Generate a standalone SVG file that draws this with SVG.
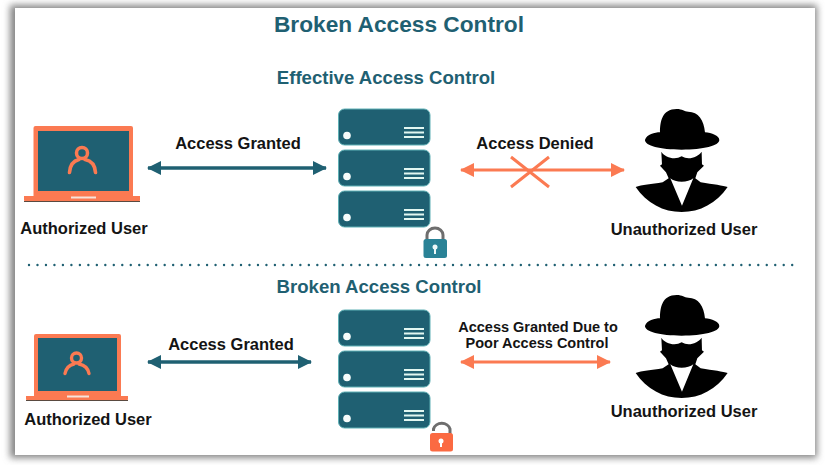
<svg xmlns="http://www.w3.org/2000/svg" width="825" height="465" viewBox="0 0 825 465">
  <style>
    text { font-family: "Liberation Sans", Arial, sans-serif; font-weight: bold; text-anchor: middle; }
    .label { fill: #141414; font-size: 16.5px; }
    .small { fill: #141414; font-size: 14.5px; }
    .heading { fill: #1f6072; font-size: 18.6px; }
    .title { fill: #1f6072; font-size: 22.7px; }
    .teal { stroke: #1f6072; fill: none; stroke-width: 3.5; }
    .coral { stroke: #fb7a52; fill: none; stroke-width: 3; }
    .rack { fill: #1f6072; stroke: #5fb0b5; stroke-width: 1; }
    .vent { stroke: #e2f7f1; stroke-width: 2; }
  </style>
  <defs>
    <filter id="soft" x="-5%" y="-5%" width="110%" height="110%"><feGaussianBlur stdDeviation="3.500"/></filter>
    <marker id="tealHead" viewBox="0 0 14 14" refX="13" refY="7" markerUnits="userSpaceOnUse" markerWidth="14" markerHeight="14" orient="auto-start-reverse">
      <path d="M0 0L14 7L0 14Z" fill="#1f6072"/>
    </marker>
    <marker id="coralHead" viewBox="0 0 14 14" refX="13" refY="7" markerUnits="userSpaceOnUse" markerWidth="14" markerHeight="14" orient="auto-start-reverse">
      <path d="M0 0L14 7L0 14Z" fill="#fb7a52"/>
    </marker>
    <g id="unit">
      <rect class="rack" x="338.5" y="0.5" width="91.5" height="36" rx="6"/>
      <circle cx="347" cy="27" r="3.800" fill="#f7fcfb"/>
      <path class="vent" d="M404 19.500H424M404 24H424M404 28.500H424"/>
    </g>
    <g id="stack">
      <use href="#unit" y="0"/>
      <use href="#unit" y="41"/>
      <use href="#unit" y="82"/>
    </g>
    <g id="spy">
      <!-- hat, mask and coat, drawn at three times size -->
      <path fill="#000" d="M555 135C560 118 585 112 600 112C600 80 606 42 650 42C668 42 672 50 685 50C715 50 732 75 735 112C755 114 778 122 778 135C778 152 730 164 665 164C600 164 555 152 555 135Z"/>
      <path fill="#000" d="M604 170C615 188 645 196 665 184C685 196 712 188 725 170L726 208L732 212L712 232L706 250L722 262C760 268 790 272 803 276C770 325 720 351 665 351C610 351 560 325 527 276C545 270 575 268 608 262L626 250L618 232L600 212L606 208Z"/>
      <path fill="#fff" d="M631 250C645 264 685 264 700 250L666 332Z"/>
    </g>
  </defs>

  <!-- page sheet with its drop shadow -->
  <rect width="825" height="465" fill="#fff"/>
  <rect x="10" y="5" width="807" height="453" fill="#858585" filter="url(#soft)"/>
  <rect x="15" y="8" width="800" height="447" fill="#fff"/>

  <text class="title" x="399" y="32">Broken Access Control</text>
  <text class="heading" x="386" y="84">Effective Access Control</text>
  <text class="heading" x="379" y="293">Broken Access Control</text>

  <path d="M29 265H792.500" stroke="#1f6072" stroke-width="2.400" stroke-dasharray="0 8.480" stroke-linecap="round" fill="none"/>

  <g id="connectors">
    <path class="teal" marker-start="url(#tealHead)" marker-end="url(#tealHead)" d="M148 168H326"/>
    <path class="coral" marker-start="url(#coralHead)" marker-end="url(#coralHead)" d="M461 170H624"/>
    <path class="coral" stroke-width="2.500" d="M511 157L549 187M549 157L511 187"/>
    <path class="teal" marker-start="url(#tealHead)" marker-end="url(#tealHead)" d="M148 362H311"/>
    <path class="coral" marker-start="url(#coralHead)" marker-end="url(#coralHead)" d="M461 362H610"/>
  </g>
  <text class="label" x="238" y="148.500">Access Granted</text>
  <text class="label" x="535" y="148.500">Access Denied</text>
  <text class="label" x="231" y="350">Access Granted</text>
  <text class="small" x="538" y="332">Access Granted Due to</text>
  <text class="small" x="537" y="348">Poor Access Control</text>

  <g id="authorized-user-top">
    <rect x="33.500" y="126" width="99.500" height="72" rx="2" fill="#fb7a52"/>
    <rect x="38" y="131" width="91" height="60" fill="#1f6072"/>
    <path d="M24 196H140V200Q140 202 138 202H26Q24 202 24 200Z" fill="#fb7a52"/>
    <path d="M24 201.500H140" stroke="#5a4a40" stroke-width="1"/>
    <rect x="71" y="196.500" width="25" height="2" fill="#f6e4dc"/>
    <circle cx="82" cy="153" r="5.500" fill="none" stroke="#fb7a52" stroke-width="3.500"/>
    <path d="M69.500 172.500C70 164 75 160.500 79 159.500M95.500 172.500C95 164 90 160.500 85 159.500" fill="none" stroke="#fb7a52" stroke-width="3.600" stroke-linecap="round"/>
    <text class="label" x="84" y="234">Authorized User</text>
  </g>

  <g id="server-top">
    <use href="#stack" y="108.500"/>
  </g>
  <g id="lock-closed">
    <path d="M427 240V235A8 7 0 0 1 443 235V240" fill="none" stroke="#6e6e6e" stroke-width="3"/>
    <rect x="423.500" y="239" width="23.500" height="19" rx="2.500" fill="#2a8296"/>
    <circle cx="435" cy="247" r="2.500" fill="#eef8f8"/>
    <path d="M435 247V254" stroke="#eef8f8" stroke-width="2"/>
  </g>

  <g id="unauthorized-user-top">
    <use href="#spy" transform="translate(460 95) scale(.3333)"/>
    <text class="label" x="684" y="235">Unauthorized User</text>
  </g>

  <g id="authorized-user-bottom">
    <rect x="34" y="334" width="87" height="64" rx="2" fill="#fb7a52"/>
    <rect x="38" y="338" width="79" height="53" fill="#1f6072"/>
    <path d="M26 396H128V399Q128 401 126 401H28Q26 401 26 399Z" fill="#fb7a52"/>
    <path d="M26 400.500H128" stroke="#5a4a40" stroke-width="1"/>
    <rect x="67" y="395.500" width="22" height="2" fill="#f6e4dc"/>
    <circle cx="76.500" cy="358" r="5" fill="none" stroke="#fb7a52" stroke-width="3.400"/>
    <path d="M65 373.500C66 368 70 365 74 364M89 373.500C88 368 84 365 79 364" fill="none" stroke="#fb7a52" stroke-width="3.400" stroke-linecap="round"/>
    <text class="label" x="88" y="425">Authorized User</text>
  </g>

  <g id="server-bottom">
    <use href="#stack" y="309.500"/>
  </g>
  <g id="lock-open">
    <path d="M433.500 431V429A8.500 7.500 0 0 1 450 429V434" fill="none" stroke="#6e6e6e" stroke-width="3"/>
    <rect x="430" y="433" width="23" height="18.500" rx="2.500" fill="#fb6a42"/>
    <circle cx="441" cy="441" r="2.500" fill="#fff"/>
    <path d="M441 441V447" stroke="#fff" stroke-width="2"/>
  </g>

  <g id="unauthorized-user-bottom">
    <use href="#spy" transform="translate(460 281) scale(.3333)"/>
    <text class="label" x="684" y="417">Unauthorized User</text>
  </g>
</svg>
